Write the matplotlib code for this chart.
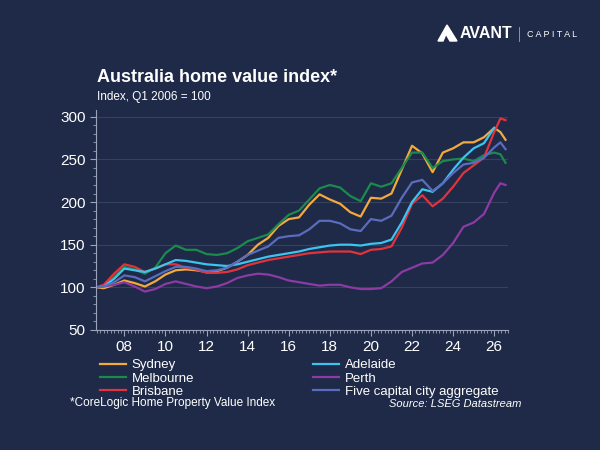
import numpy as np
import matplotlib
matplotlib.use("Agg")
import matplotlib.pyplot as plt
from matplotlib.patches import Polygon
from matplotlib.ticker import MultipleLocator

# year positions (decimal years) of the read values
years = [2006.65, 2007.0, 2007.5, 2008.0, 2008.5, 2009.0, 2009.5, 2010.0, 2010.5,
         2011.0, 2011.5, 2012.0, 2012.5, 2013.0, 2013.5, 2014.0, 2014.5, 2015.0,
         2015.5, 2016.0, 2016.5, 2017.0, 2017.5, 2018.0, 2018.5, 2019.0, 2019.5,
         2020.0, 2020.5, 2021.0, 2021.5, 2022.0, 2022.5, 2023.0, 2023.5, 2024.0,
         2024.5, 2025.0, 2025.5, 2026.0, 2026.3, 2026.55]

sydney = [100, 99, 103, 108, 105, 101, 107, 115, 120, 121, 120, 118, 119, 123, 130,
          138, 150, 158, 172, 180, 182, 197, 209, 203, 198, 188, 183, 205, 204, 210,
          238, 266, 257, 235, 258, 263, 270, 270, 276, 287, 282, 273]
melbourne = [100, 102, 112, 124, 121, 116, 123, 140, 149, 144, 144, 139, 138, 140, 146,
             154, 158, 162, 174, 185, 190, 203, 216, 220, 217, 207, 201, 222, 218, 222,
             240, 258, 258, 240, 248, 250, 251, 248, 255, 258, 256, 246]
brisbane = [100, 103, 116, 127, 124, 118, 122, 127, 127, 123, 121, 117, 117, 118, 121,
            126, 129, 132, 134, 136, 138, 140, 141, 142, 142, 142, 139, 144, 145, 148,
            170, 198, 208, 195, 204, 218, 234, 243, 252, 282, 298, 296]
adelaide = [100, 101, 110, 122, 120, 118, 122, 127, 132, 131, 129, 127, 126, 125, 127,
            130, 133, 136, 138, 140, 142, 145, 147, 149, 150, 150, 149, 151, 152, 156,
            176, 200, 215, 212, 222, 238, 252, 263, 269, 287, np.nan, np.nan]
perth = [100, 101, 103, 106, 101, 95, 98, 104, 107, 104, 101, 99, 101, 105, 111,
         114, 116, 115, 112, 108, 106, 104, 102, 103, 103, 100, 98, 98, 99, 107,
         118, 123, 128, 129, 138, 152, 171, 176, 186, 211, 222, 220]
aggregate = [100, 101, 106, 114, 112, 107, 113, 119, 124, 124, 122, 119, 120, 123, 130,
             138, 143, 148, 158, 160, 161, 168, 178, 178, 175, 168, 166, 180, 178, 184,
             205, 223, 226, 213, 222, 234, 244, 246, 252, 264, 270, 262]

labels = ["Sydney", "Melbourne", "Brisbane", "Adelaide", "Perth",
          "Five capital city aggregate"]
colors = ["#f4a93c", "#1b8a4c", "#e2333d", "#3cc4ef", "#8d3aa3", "#5a6cbd"]
series = [sydney, melbourne, brisbane, adelaide, perth, aggregate]

xticks = [2008, 2010, 2012, 2014, 2016, 2018, 2020, 2022, 2024, 2026]
xticklabels = ["08", "10", "12", "14", "16", "18", "20", "22", "24", "26"]
yticks = [50, 100, 150, 200, 250, 300]

bg = "#1e2a47"
plt.rcParams["font.family"] = ["Liberation Sans", "DejaVu Sans"]

fig = plt.figure(figsize=(6, 4.5), dpi=100, facecolor=bg)
ax = fig.add_axes([0.16, 0.2667, 0.687, 0.489])
ax.set_facecolor(bg)

for vals, lab, col in zip(series, labels, colors):
    ax.plot(years, vals, color=col, lw=1.6, label=lab, solid_joinstyle="round")

ax.set_xlim(2006.62, 2026.68)
ax.set_ylim(50, 308)
ax.set_xticks(xticks)
ax.set_xticklabels(xticklabels)
ax.set_yticks(yticks)
ax.xaxis.set_minor_locator(MultipleLocator(1 / 6))
ax.yaxis.set_minor_locator(MultipleLocator(10))
ax.grid(axis="y", which="major", color="#34415f", lw=0.8)
ax.set_axisbelow(True)

for s in ["top", "right"]:
    ax.spines[s].set_visible(False)
for s in ["left", "bottom"]:
    ax.spines[s].set_color("#9aa3b8")
    ax.spines[s].set_linewidth(0.8)
ax.tick_params(axis="both", which="major", colors="#9aa3b8", labelcolor="white",
               labelsize=11, length=4, width=0.8)
ax.tick_params(axis="both", which="minor", colors="#9aa3b8", length=2, width=0.6)

# titles
fig.text(97 / 600, 1 - 77 / 450, "Australia home value index*", color="white",
         fontsize=13, fontweight="bold", va="center", ha="left")
fig.text(97 / 600, 1 - 97 / 450, "Index, Q1 2006 = 100", color="white",
         fontsize=8.5, va="center", ha="left")

# legend, two columns
handles, labs = ax.get_legend_handles_labels()
leg = fig.legend(handles, labs, ncol=2, loc="upper left",
                 bbox_to_anchor=(100 / 600, 1 - 359 / 450), frameon=False,
                 fontsize=9.5, labelcolor="white", handlelength=2.0,
                 handletextpad=0.4, columnspacing=9.0, labelspacing=0.08,
                 borderpad=0, borderaxespad=0)

fig.text(70 / 600, 1 - 403 / 450, "*CoreLogic Home Property Value Index",
         color="white", fontsize=8.5, va="center", ha="left")
fig.text(521 / 600, 1 - 404 / 450, "Source: LSEG Datastream", color="white",
         fontsize=8, style="italic", va="center", ha="right")

# logo
def px(x, y):
    return (x / 600, 1 - y / 450)

icon = [px(447, 25), px(457, 41), px(450, 41), px(446, 34), px(443, 41), px(438, 41)]
fig.patches.append(Polygon(icon, closed=True, color="white",
                           transform=fig.transFigure, figure=fig))
fig.text(460 / 600, 1 - 34 / 450, "AVANT", color="white", fontsize=11.5,
         fontweight="bold", va="center", ha="left")
fig.add_artist(plt.Line2D([519 / 600, 519 / 600], [1 - 27 / 450, 1 - 41 / 450],
                          color="#9aa3b8", lw=0.6, transform=fig.transFigure))
fig.text(527 / 600, 1 - 34.5 / 450, "C A P I T A L", color="white", fontsize=6.5,
         va="center", ha="left")

fig.savefig("out.png", dpi=100, facecolor=bg)
